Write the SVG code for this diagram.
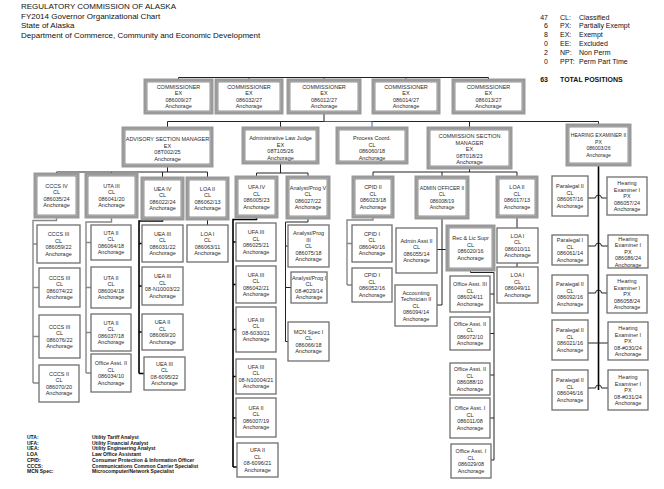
<svg xmlns="http://www.w3.org/2000/svg" width="664" height="489" viewBox="0 0 664 489">
<style>
.so{fill:#fff;stroke:#9a9a9a;stroke-width:3}
.si{fill:none;stroke:#4a4a4a;stroke-width:0.6}
.lf{fill:#fff;stroke:#6f6f6f;stroke-width:1.3}
.t{font-family:"Liberation Sans",Arial,sans-serif;font-size:5.5px;fill:#2a2a2a;text-anchor:middle}
.ts{font-size:5.1px}
.h{font-family:"Liberation Sans",Arial,sans-serif;font-size:8px;fill:#111}
.lg{font-family:"Liberation Sans",Arial,sans-serif;font-size:7px;fill:#111}
.lb{font-family:"Liberation Sans",Arial,sans-serif;font-size:5px;font-weight:bold;fill:#111}
.c{fill:none;stroke:#222;stroke-width:1}
.cg{fill:none;stroke:#888;stroke-width:1.4}
.ck{fill:none;stroke:#000;stroke-width:1.6}
.cb{fill:none;stroke:#3b5fa3;stroke-width:1}
</style>
<rect x="0" y="0" width="664" height="489" fill="#fff"/>
<g id="header">
<text class="h" x="21" y="8.8">REGULATORY COMMISSION OF ALASKA</text>
<text class="h" x="21" y="18.5">FY2014 Governor Organizational Chart</text>
<text class="h" x="21" y="28.2">State of Alaska</text>
<text class="h" x="21" y="37.9">Department of Commerce, Community and Economic Development</text>
</g>
<g id="legend-top">
<text class="lg" x="548" y="19.5" text-anchor="end">47</text><text class="lg" x="560" y="19.5">CL:</text><text class="lg" x="579" y="19.5">Classified</text>
<text class="lg" x="548" y="28.3" text-anchor="end">6</text><text class="lg" x="560" y="28.3">PX:</text><text class="lg" x="579" y="28.3">Partially Exempt</text>
<text class="lg" x="548" y="37.1" text-anchor="end">8</text><text class="lg" x="560" y="37.1">EX:</text><text class="lg" x="579" y="37.1">Exempt</text>
<text class="lg" x="548" y="45.9" text-anchor="end">0</text><text class="lg" x="560" y="45.9">EE:</text><text class="lg" x="579" y="45.9">Excluded</text>
<text class="lg" x="548" y="54.7" text-anchor="end">2</text><text class="lg" x="560" y="54.7">NP:</text><text class="lg" x="579" y="54.7">Non Perm</text>
<text class="lg" x="548" y="63.5" text-anchor="end">0</text><text class="lg" x="560" y="63.5">PPT:</text><text class="lg" x="579" y="63.5">Perm Part Time</text>
<text class="lg" x="548" y="81.5" text-anchor="end" font-weight="bold">63</text><text class="lg" x="560" y="81.5" font-weight="bold">TOTAL POSITIONS</text>
</g>
<g id="legend-bottom">
<text class="lb" x="27" y="439">UTA:</text><text class="lb" x="92" y="439">Utility Tariff Analyst</text>
<text class="lb" x="27" y="444.7">UFA:</text><text class="lb" x="92" y="444.7">Utility Financial Analyst</text>
<text class="lb" x="27" y="450.4">UEA:</text><text class="lb" x="92" y="450.4">Utility Engineering Analyst</text>
<text class="lb" x="27" y="456.1">LOA</text><text class="lb" x="92" y="456.1">Law Office Assistant</text>
<text class="lb" x="27" y="461.8">CPID:</text><text class="lb" x="92" y="461.8">Consumer Protection &amp; Information Officer</text>
<text class="lb" x="27" y="467.5">CCCS:</text><text class="lb" x="92" y="467.5">Communications Common Carrier Specialist</text>
<text class="lb" x="27" y="473.2">MCN Spec:</text><text class="lb" x="92" y="473.2">Microcomputer/Network Specialist</text>
</g>
<g id="connectors">
<path class="c" d="M178.5,77.5H488.5M178.5,77.5V80M249,77.5V80M324,77.5V80M406,77.5V80M488.5,77.5V80"/>
<path class="c" d="M324,113V121.5M167.5,121.5H598.5M167.5,121.5V128M280.5,121.5V128M469.5,121.5V128M598.5,121.5V125"/>
<path class="cb" d="M324,121.5H372V128"/>
<path class="c" d="M167.5,166V172M56.5,172H207.5M56.5,172V174M111.5,172V174M162.5,172V178M207.5,172V178"/>
<path class="cg" d="M56.5,217V220.5H33V383M33,244H37M33,287.5H39M33,336.5H39M33,383H39"/>
<path class="cg" d="M111.5,217V222H86V373M86,242.5H91M86,287.5H91M86,332.5H91M86,373H91"/>
<path class="ck" d="M162.5,219V221H139V373.5M139,243.5H142M139,286H142M139,332H142M139,373.5H144"/>
<path class="c" d="M207.5,219V225"/>
<path class="c" d="M280.5,163V173M256.5,173H308M256.5,173V177M308,173V177"/>
<path class="ck" d="M256.5,217V219.5H233V467M233,242H236M233,284.5H236M233,329.5H236M233,376.5H236M233,418H236M233,467H237"/>
<path class="c" d="M308,218V222H285.5V341.5M285.5,246H288M285.5,287.5H291M285.5,341.5H288"/>
<path class="c" d="M469.5,168V172M373,172H517M373,172V177M442,172V177M517,172V177"/>
<path class="cg" d="M373,217V220H347V285M347,243.5H352M347,285H352"/>
<path class="c" d="M442,218V305M437,249.5H447M437,305H442"/>
<path class="c" d="M470.5,270V272.5H494V460M490,294H494M490,333.5H494M490,375H494M490,418H494M491,460H494"/>
<path class="c" d="M517,217V228M517,263V267"/>
<path class="ck" d="M598.5,165V390"/>
<path class="c" d="M588,198H595.5A3,3 0 0 1 601.5,198H607M588,246H595.5A3,3 0 0 1 601.5,246H608M588,293H595.5A3,3 0 0 1 601.5,293H607M588,343H608M588,388H595.5A3,3 0 0 1 601.5,388H608"/>
</g>
<g id="c1"><rect class="so" x="145" y="80" width="67" height="33"/><rect class="si" x="147" y="82" width="63" height="29"/><text class="t" x="178.5" y="88.75"><tspan x="178.5">COMMISSIONER</tspan><tspan x="178.5" dy="6.5">EX</tspan><tspan x="178.5" dy="6.5">086009/27</tspan><tspan x="178.5" dy="6.5">Anchorage</tspan></text></g>
<g id="c2"><rect class="so" x="216" y="80" width="66" height="33"/><rect class="si" x="218" y="82" width="62" height="29"/><text class="t" x="249" y="88.75"><tspan x="249">COMMISSIONER</tspan><tspan x="249" dy="6.5">EX</tspan><tspan x="249" dy="6.5">086032/27</tspan><tspan x="249" dy="6.5">Anchorage</tspan></text></g>
<g id="c3"><rect class="so" x="288" y="80" width="72" height="33"/><rect class="si" x="290" y="82" width="68" height="29"/><text class="t" x="324" y="88.75"><tspan x="324">COMMISSIONER</tspan><tspan x="324" dy="6.5">EX</tspan><tspan x="324" dy="6.5">086012/27</tspan><tspan x="324" dy="6.5">Anchorage</tspan></text></g>
<g id="c4"><rect class="so" x="373" y="80" width="66" height="33"/><rect class="si" x="375" y="82" width="62" height="29"/><text class="t" x="406" y="88.75"><tspan x="406">COMMISSIONER</tspan><tspan x="406" dy="6.5">EX</tspan><tspan x="406" dy="6.5">086014/27</tspan><tspan x="406" dy="6.5">Anchorage</tspan></text></g>
<g id="c5"><rect class="so" x="453" y="80" width="71" height="33"/><rect class="si" x="455" y="82" width="67" height="29"/><text class="t" x="488.5" y="88.75"><tspan x="488.5">COMMISSIONER</tspan><tspan x="488.5" dy="6.5">EX</tspan><tspan x="488.5" dy="6.5">086013/27</tspan><tspan x="488.5" dy="6.5">Anchorage</tspan></text></g>
<g id="asm"><rect class="so" x="123" y="128" width="89" height="38"/><rect class="si" x="125" y="130" width="85" height="34"/><text class="t" x="167.5" y="141"><tspan x="167.5">ADVISORY SECTION MANAGER</tspan><tspan x="167.5" dy="6.5">EX</tspan><tspan x="167.5" dy="6.5">08T002/25</tspan><tspan x="167.5" dy="6.5">Anchorage</tspan></text></g>
<g id="alj"><rect class="so" x="243" y="128" width="75" height="35"/><rect class="si" x="245" y="130" width="71" height="31"/><text class="t" x="280.5" y="140"><tspan x="280.5">Administrative Law Judge</tspan><tspan x="280.5" dy="6.5">EX</tspan><tspan x="280.5" dy="6.5">08T105/26</tspan><tspan x="280.5" dy="6.5">Anchorage</tspan></text></g>
<g id="pc"><rect class="so" x="337" y="128" width="70" height="35"/><rect class="si" x="339" y="130" width="66" height="31"/><text class="t" x="372" y="140"><tspan x="372">Process Coord.</tspan><tspan x="372" dy="6.5">CL</tspan><tspan x="372" dy="6.5">086060/18</tspan><tspan x="372" dy="6.5">Anchorage</tspan></text></g>
<g id="csm"><rect class="so" x="428" y="128" width="83" height="40"/><rect class="si" x="430" y="130" width="79" height="36"/><text class="t" x="469.5" y="138"><tspan x="469.5">COMMISSION SECTION</tspan><tspan x="469.5" dy="6.5">MANAGER</tspan><tspan x="469.5" dy="6.5">EX</tspan><tspan x="469.5" dy="6.5">08T018/23</tspan><tspan x="469.5" dy="6.5">Anchorage</tspan></text></g>
<g id="he2"><rect class="so" x="567" y="125" width="63" height="40"/><rect class="si" x="569" y="127" width="59" height="36"/><text class="t ts" x="598.5" y="137"><tspan x="598.5">HEARING EXAMINER II</tspan><tspan x="598.5" dy="6.5">PX</tspan><tspan x="598.5" dy="6.5">086003/26</tspan><tspan x="598.5" dy="6.5">Anchorage</tspan></text></g>
<g id="cccs4"><rect class="so" x="35" y="174" width="43" height="43"/><rect class="si" x="37" y="176" width="39" height="39"/><text class="t" x="56.5" y="187.75"><tspan x="56.5">CCCS IV</tspan><tspan x="56.5" dy="6.5">CL</tspan><tspan x="56.5" dy="6.5">086035/24</tspan><tspan x="56.5" dy="6.5">Anchorage</tspan></text></g>
<g id="uta3"><rect class="so" x="86" y="174" width="51" height="43"/><rect class="si" x="88" y="176" width="47" height="39"/><text class="t" x="111.5" y="187.75"><tspan x="111.5">UTA III</tspan><tspan x="111.5" dy="6.5">CL</tspan><tspan x="111.5" dy="6.5">086041/20</tspan><tspan x="111.5" dy="6.5">Anchorage</tspan></text></g>
<g id="uea4"><rect class="so" x="142" y="178" width="41" height="41"/><rect class="si" x="144" y="180" width="37" height="37"/><text class="t" x="162.5" y="190.75"><tspan x="162.5">UEA IV</tspan><tspan x="162.5" dy="6.5">CL</tspan><tspan x="162.5" dy="6.5">086022/24</tspan><tspan x="162.5" dy="6.5">Anchorage</tspan></text></g>
<g id="loa2a"><rect class="so" x="187" y="178" width="41" height="41"/><rect class="si" x="189" y="180" width="37" height="37"/><text class="t" x="207.5" y="190.75"><tspan x="207.5">LOA II</tspan><tspan x="207.5" dy="6.5">CL</tspan><tspan x="207.5" dy="6.5">086062/13</tspan><tspan x="207.5" dy="6.5">Anchorage</tspan></text></g>
<g id="cccs3a"><rect class="lf" x="37" y="225" width="43" height="38"/><text class="t" x="58.5" y="236.25"><tspan x="58.5">CCCS III</tspan><tspan x="58.5" dy="6.5">CL</tspan><tspan x="58.5" dy="6.5">086059/22</tspan><tspan x="58.5" dy="6.5">Anchorage</tspan></text></g>
<g id="cccs3b"><rect class="lf" x="39" y="268" width="41" height="39"/><text class="t" x="59.5" y="279.75"><tspan x="59.5">CCCS III</tspan><tspan x="59.5" dy="6.5">CL</tspan><tspan x="59.5" dy="6.5">086074/22</tspan><tspan x="59.5" dy="6.5">Anchorage</tspan></text></g>
<g id="cccs3c"><rect class="lf" x="39" y="315" width="41" height="43"/><text class="t" x="59.5" y="328.75"><tspan x="59.5">CCCS III</tspan><tspan x="59.5" dy="6.5">CL</tspan><tspan x="59.5" dy="6.5">086076/22</tspan><tspan x="59.5" dy="6.5">Anchorage</tspan></text></g>
<g id="cccs2"><rect class="lf" x="39" y="365" width="40" height="37"/><text class="t" x="59" y="375.75"><tspan x="59">CCCS II</tspan><tspan x="59" dy="6.5">CL</tspan><tspan x="59" dy="6.5">086070/20</tspan><tspan x="59" dy="6.5">Anchorage</tspan></text></g>
<g id="uta2a"><rect class="lf" x="91" y="225" width="40" height="35"/><text class="t" x="111" y="234.75"><tspan x="111">UTA II</tspan><tspan x="111" dy="6.5">CL</tspan><tspan x="111" dy="6.5">086064/18</tspan><tspan x="111" dy="6.5">Anchorage</tspan></text></g>
<g id="uta2b"><rect class="lf" x="91" y="267" width="40" height="41"/><text class="t" x="111" y="279.75"><tspan x="111">UTA II</tspan><tspan x="111" dy="6.5">CL</tspan><tspan x="111" dy="6.5">086004/18</tspan><tspan x="111" dy="6.5">Anchorage</tspan></text></g>
<g id="uta2c"><rect class="lf" x="91" y="314" width="40" height="37"/><text class="t" x="111" y="324.75"><tspan x="111">UTA II</tspan><tspan x="111" dy="6.5">CL</tspan><tspan x="111" dy="6.5">086037/18</tspan><tspan x="111" dy="6.5">Anchorage</tspan></text></g>
<g id="oa2a"><rect class="lf" x="91" y="354" width="40" height="38"/><text class="t" x="111" y="365.25"><tspan x="111">Office Asst. II</tspan><tspan x="111" dy="6.5">CL</tspan><tspan x="111" dy="6.5">086034/10</tspan><tspan x="111" dy="6.5">Anchorage</tspan></text></g>
<g id="uea3a"><rect class="lf" x="142" y="225" width="41" height="37"/><text class="t" x="162.5" y="235.75"><tspan x="162.5">UEA III</tspan><tspan x="162.5" dy="6.5">CL</tspan><tspan x="162.5" dy="6.5">086031/22</tspan><tspan x="162.5" dy="6.5">Anchorage</tspan></text></g>
<g id="uea3b"><rect class="lf" x="142" y="267" width="41" height="38"/><text class="t" x="162.5" y="278.25"><tspan x="162.5">UEA III</tspan><tspan x="162.5" dy="6.5">CL</tspan><tspan x="162.5" dy="6.5">08-N10003/22</tspan><tspan x="162.5" dy="6.5">Anchorage</tspan></text></g>
<g id="uea2"><rect class="lf" x="142" y="314" width="41" height="36"/><text class="t" x="162.5" y="324.25"><tspan x="162.5">UEA II</tspan><tspan x="162.5" dy="6.5">CL</tspan><tspan x="162.5" dy="6.5">086069/20</tspan><tspan x="162.5" dy="6.5">Anchorage</tspan></text></g>
<g id="uea3c"><rect class="lf" x="144" y="357" width="41" height="33"/><text class="t" x="164.5" y="365.75"><tspan x="164.5">UEA III</tspan><tspan x="164.5" dy="6.5">CL</tspan><tspan x="164.5" dy="6.5">08-6095/22</tspan><tspan x="164.5" dy="6.5">Anchorage</tspan></text></g>
<g id="loa1a"><rect class="lf" x="187" y="225" width="41" height="37"/><text class="t" x="207.5" y="235.75"><tspan x="207.5">LOA I</tspan><tspan x="207.5" dy="6.5">CL</tspan><tspan x="207.5" dy="6.5">086063/11</tspan><tspan x="207.5" dy="6.5">Anchorage</tspan></text></g>
<g id="ufa4"><rect class="so" x="236" y="177" width="41" height="40"/><rect class="si" x="238" y="179" width="37" height="36"/><text class="t" x="256.5" y="189.25"><tspan x="256.5">UFA IV</tspan><tspan x="256.5" dy="6.5">CL</tspan><tspan x="256.5" dy="6.5">086005/23</tspan><tspan x="256.5" dy="6.5">Anchorage</tspan></text></g>
<g id="ap5"><rect class="so" x="287" y="177" width="42" height="41"/><rect class="si" x="289" y="179" width="38" height="37"/><text class="t" x="308" y="189.75"><tspan x="308">Analyst/Prog V</tspan><tspan x="308" dy="6.5">CL</tspan><tspan x="308" dy="6.5">086027/22</tspan><tspan x="308" dy="6.5">Anchorage</tspan></text></g>
<g id="ufa3a"><rect class="lf" x="236" y="223" width="40" height="38"/><text class="t" x="256" y="234.25"><tspan x="256">UFA III</tspan><tspan x="256" dy="6.5">CL</tspan><tspan x="256" dy="6.5">086025/21</tspan><tspan x="256" dy="6.5">Anchorage</tspan></text></g>
<g id="ufa3b"><rect class="lf" x="236" y="266" width="40" height="37"/><text class="t" x="256" y="276.75"><tspan x="256">UFA III</tspan><tspan x="256" dy="6.5">CL</tspan><tspan x="256" dy="6.5">086042/21</tspan><tspan x="256" dy="6.5">Anchorage</tspan></text></g>
<g id="ufa3c"><rect class="lf" x="236" y="307" width="40" height="45"/><text class="t" x="256" y="321.75"><tspan x="256">UFA III</tspan><tspan x="256" dy="6.5">CL</tspan><tspan x="256" dy="6.5">08-6030/21</tspan><tspan x="256" dy="6.5">Anchorage</tspan></text></g>
<g id="ufa3d"><rect class="lf" x="236" y="359" width="40" height="35"/><text class="t" x="256" y="368.75"><tspan x="256">UFA III</tspan><tspan x="256" dy="6.5">CL</tspan><tspan x="256" dy="6.5">08-N10004/21</tspan><tspan x="256" dy="6.5">Anchorage</tspan></text></g>
<g id="ufa2a"><rect class="lf" x="236" y="398" width="40" height="39"/><text class="t" x="256" y="409.75"><tspan x="256">UFA II</tspan><tspan x="256" dy="6.5">CL</tspan><tspan x="256" dy="6.5">086007/19</tspan><tspan x="256" dy="6.5">Anchorage</tspan></text></g>
<g id="ufa2b"><rect class="lf" x="237" y="443" width="41" height="34"/><text class="t" x="257.5" y="452.25"><tspan x="257.5">UFA II</tspan><tspan x="257.5" dy="6.5">CL</tspan><tspan x="257.5" dy="6.5">08-6096/21</tspan><tspan x="257.5" dy="6.5">Anchorage</tspan></text></g>
<g id="ap3"><rect class="lf" x="288" y="225" width="41" height="42"/><text class="t" x="308.5" y="235"><tspan x="308.5">Analyst/Prog</tspan><tspan x="308.5" dy="6.5">III</tspan><tspan x="308.5" dy="6.5">CL</tspan><tspan x="308.5" dy="6.5">086075/18</tspan><tspan x="308.5" dy="6.5">Anchorage</tspan></text></g>
<g id="ap1"><rect class="lf" x="291" y="272" width="36" height="31"/><text class="t" x="309" y="279.75"><tspan x="309">Analyst/Prog I</tspan><tspan x="309" dy="6.5">CL</tspan><tspan x="309" dy="6.5">08-#029/14</tspan><tspan x="309" dy="6.5">Anchorage</tspan></text></g>
<g id="mcn"><rect class="lf" x="288" y="322" width="41" height="39"/><text class="t" x="308.5" y="333.75"><tspan x="308.5">MCN Spec I</tspan><tspan x="308.5" dy="6.5">CL</tspan><tspan x="308.5" dy="6.5">086066/18</tspan><tspan x="308.5" dy="6.5">Anchorage</tspan></text></g>
<g id="cpid2"><rect class="so" x="353" y="177" width="40" height="40"/><rect class="si" x="355" y="179" width="36" height="36"/><text class="t" x="373" y="189.25"><tspan x="373">CPID II</tspan><tspan x="373" dy="6.5">CL</tspan><tspan x="373" dy="6.5">086023/18</tspan><tspan x="373" dy="6.5">Anchorage</tspan></text></g>
<g id="ao2"><rect class="so" x="416" y="177" width="52" height="41"/><rect class="si" x="418" y="179" width="48" height="37"/><text class="t ts" x="442" y="189.75"><tspan x="442">ADMIN OFFICER II</tspan><tspan x="442" dy="6.5">CL</tspan><tspan x="442" dy="6.5">086008/19</tspan><tspan x="442" dy="6.5">Anchorage</tspan></text></g>
<g id="loa2b"><rect class="so" x="497" y="177" width="40" height="40"/><rect class="si" x="499" y="179" width="36" height="36"/><text class="t" x="517" y="189.25"><tspan x="517">LOA II</tspan><tspan x="517" dy="6.5">CL</tspan><tspan x="517" dy="6.5">086017/13</tspan><tspan x="517" dy="6.5">Anchorage</tspan></text></g>
<g id="cpid1a"><rect class="lf" x="352" y="225" width="40" height="37"/><text class="t" x="372" y="235.75"><tspan x="372">CPID I</tspan><tspan x="372" dy="6.5">CL</tspan><tspan x="372" dy="6.5">086040/16</tspan><tspan x="372" dy="6.5">Anchorage</tspan></text></g>
<g id="cpid1b"><rect class="lf" x="352" y="268" width="40" height="34"/><text class="t" x="372" y="277.25"><tspan x="372">CPID I</tspan><tspan x="372" dy="6.5">CL</tspan><tspan x="372" dy="6.5">086052/16</tspan><tspan x="372" dy="6.5">Anchorage</tspan></text></g>
<g id="aa2"><rect class="lf" x="396" y="228" width="41" height="45"/><text class="t" x="416.5" y="242.75"><tspan x="416.5">Admin Asst II</tspan><tspan x="416.5" dy="6.5">CL</tspan><tspan x="416.5" dy="6.5">086055/14</tspan><tspan x="416.5" dy="6.5">Anchorage</tspan></text></g>
<g id="rls"><rect class="so" x="447" y="226" width="47" height="44"/><rect class="si" x="449" y="228" width="43" height="40"/><text class="t" x="470.5" y="240.25"><tspan x="470.5">Rec &amp; Lic Supr</tspan><tspan x="470.5" dy="6.5">CL</tspan><tspan x="470.5" dy="6.5">086020/16</tspan><tspan x="470.5" dy="6.5">Anchorage</tspan></text></g>
<g id="at2"><rect class="lf" x="395" y="285" width="42" height="41"/><text class="t" x="416" y="294.5"><tspan x="416">Accounting</tspan><tspan x="416" dy="6.5">Technician II</tspan><tspan x="416" dy="6.5">CL</tspan><tspan x="416" dy="6.5">086094/14</tspan><tspan x="416" dy="6.5">Anchorage</tspan></text></g>
<g id="oa3"><rect class="lf" x="450" y="276" width="40" height="36"/><text class="t" x="470" y="286.25"><tspan x="470">Office Asst. III</tspan><tspan x="470" dy="6.5">CL</tspan><tspan x="470" dy="6.5">086024/11</tspan><tspan x="470" dy="6.5">Anchorage</tspan></text></g>
<g id="oa2b"><rect class="lf" x="450" y="317" width="40" height="33"/><text class="t" x="470" y="325.75"><tspan x="470">Office Asst. II</tspan><tspan x="470" dy="6.5">CL</tspan><tspan x="470" dy="6.5">086072/10</tspan><tspan x="470" dy="6.5">Anchorage</tspan></text></g>
<g id="oa2c"><rect class="lf" x="450" y="363" width="40" height="32"/><text class="t" x="470" y="371.25"><tspan x="470">Office Asst. II</tspan><tspan x="470" dy="6.5">CL</tspan><tspan x="470" dy="6.5">086088/10</tspan><tspan x="470" dy="6.5">Anchorage</tspan></text></g>
<g id="oa1a"><rect class="lf" x="450" y="398" width="40" height="40"/><text class="t" x="470" y="410.25"><tspan x="470">Office Asst. I</tspan><tspan x="470" dy="6.5">CL</tspan><tspan x="470" dy="6.5">086011/08</tspan><tspan x="470" dy="6.5">Anchorage</tspan></text></g>
<g id="oa1b"><rect class="lf" x="451" y="444" width="40" height="34"/><text class="t" x="471" y="453.25"><tspan x="471">Office Asst. I</tspan><tspan x="471" dy="6.5">CL</tspan><tspan x="471" dy="6.5">086029/08</tspan><tspan x="471" dy="6.5">Anchorage</tspan></text></g>
<g id="loa1b"><rect class="lf" x="497" y="228" width="41" height="35"/><text class="t" x="517.5" y="237.75"><tspan x="517.5">LOA I</tspan><tspan x="517.5" dy="6.5">CL</tspan><tspan x="517.5" dy="6.5">086010/11</tspan><tspan x="517.5" dy="6.5">Anchorage</tspan></text></g>
<g id="loa1c"><rect class="lf" x="497" y="267" width="41" height="36"/><text class="t" x="517.5" y="277.25"><tspan x="517.5">LOA I</tspan><tspan x="517.5" dy="6.5">CL</tspan><tspan x="517.5" dy="6.5">086049/11</tspan><tspan x="517.5" dy="6.5">Anchorage</tspan></text></g>
<g id="pl2a"><rect class="lf" x="552" y="176" width="36" height="40"/><text class="t" x="570" y="188.25"><tspan x="570">Paralegal II</tspan><tspan x="570" dy="6.5">CL</tspan><tspan x="570" dy="6.5">086067/16</tspan><tspan x="570" dy="6.5">Anchorage</tspan></text></g>
<g id="he1a"><rect class="lf" x="607" y="177" width="40" height="38"/><text class="t" x="627" y="185"><tspan x="627">Hearing</tspan><tspan x="627" dy="6.5">Examiner I</tspan><tspan x="627" dy="6.5">PX</tspan><tspan x="627" dy="6.5">086057/24</tspan><tspan x="627" dy="6.5">Anchorage</tspan></text></g>
<g id="pl1"><rect class="lf" x="552" y="235" width="36" height="30"/><text class="t" x="570" y="242.25"><tspan x="570">Paralegal I</tspan><tspan x="570" dy="6.5">CL</tspan><tspan x="570" dy="6.5">086061/14</tspan><tspan x="570" dy="6.5">Anchorage</tspan></text></g>
<g id="he1b"><rect class="lf" x="608" y="235" width="40" height="33"/><text class="t" x="628" y="240.5"><tspan x="628">Hearing</tspan><tspan x="628" dy="6.5">Examiner I</tspan><tspan x="628" dy="6.5">PX</tspan><tspan x="628" dy="6.5">086086/24</tspan><tspan x="628" dy="6.5">Anchorage</tspan></text></g>
<g id="pl2b"><rect class="lf" x="552" y="275" width="36" height="38"/><text class="t" x="570" y="286.25"><tspan x="570">Paralegal II</tspan><tspan x="570" dy="6.5">CL</tspan><tspan x="570" dy="6.5">086092/16</tspan><tspan x="570" dy="6.5">Anchorage</tspan></text></g>
<g id="he1c"><rect class="lf" x="607" y="275" width="40" height="38"/><text class="t" x="627" y="283"><tspan x="627">Hearing</tspan><tspan x="627" dy="6.5">Examiner I</tspan><tspan x="627" dy="6.5">PX</tspan><tspan x="627" dy="6.5">086058/24</tspan><tspan x="627" dy="6.5">Anchorage</tspan></text></g>
<g id="pl2c"><rect class="lf" x="552" y="320" width="36" height="40"/><text class="t" x="570" y="332.25"><tspan x="570">Paralegal II</tspan><tspan x="570" dy="6.5">CL</tspan><tspan x="570" dy="6.5">086021/16</tspan><tspan x="570" dy="6.5">Anchorage</tspan></text></g>
<g id="he1d"><rect class="lf" x="608" y="322" width="40" height="38"/><text class="t" x="628" y="330"><tspan x="628">Hearing</tspan><tspan x="628" dy="6.5">Examiner I</tspan><tspan x="628" dy="6.5">PX</tspan><tspan x="628" dy="6.5">08-#030/24</tspan><tspan x="628" dy="6.5">Anchorage</tspan></text></g>
<g id="pl2d"><rect class="lf" x="552" y="370" width="36" height="40"/><text class="t" x="570" y="382.25"><tspan x="570">Paralegal II</tspan><tspan x="570" dy="6.5">CL</tspan><tspan x="570" dy="6.5">086046/16</tspan><tspan x="570" dy="6.5">Anchorage</tspan></text></g>
<g id="he1e"><rect class="lf" x="608" y="370" width="40" height="40"/><text class="t" x="628" y="379"><tspan x="628">Hearing</tspan><tspan x="628" dy="6.5">Examiner I</tspan><tspan x="628" dy="6.5">PX</tspan><tspan x="628" dy="6.5">08-#031/24</tspan><tspan x="628" dy="6.5">Anchorage</tspan></text></g>
</svg>
